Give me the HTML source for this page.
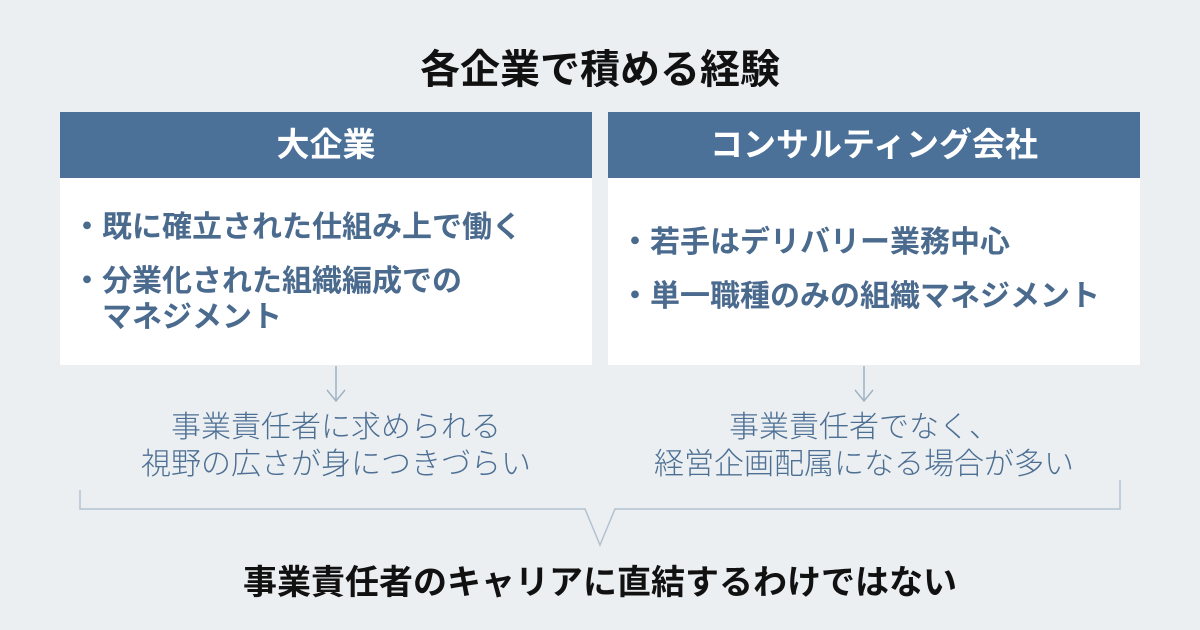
<!DOCTYPE html>
<html><head><meta charset="utf-8"><style>
*{margin:0;padding:0;box-sizing:border-box}
body{width:1200px;height:630px;background:#ebeff1;font-family:"Liberation Sans","Noto Sans CJK JP",sans-serif;position:relative;overflow:hidden}
.t{position:absolute;white-space:nowrap}
.box{position:absolute;top:112px;width:532px;height:253px;background:#fff}
.hd{height:66px;background:#4b7199;color:#fff;font-weight:bold;font-size:33px;text-align:center;line-height:66px}
.b{position:absolute;color:#4a6a8e;font-weight:bold;font-size:30px;line-height:36px;white-space:nowrap}
.g{position:absolute;color:#4d6f94;font-size:30px;line-height:37px;text-align:center;font-weight:300;white-space:nowrap}
</style></head><body>
<div class="t" style="left:0;width:1200px;top:37px;text-align:center;font-size:40px;font-weight:bold;color:#111">各企業で積める経験</div>
<div class="box" style="left:60px"><div class="hd">大企業</div>
<div class="b" style="left:12px;top:98px">・既に確立された仕組み上で働く</div>
<div class="b" style="left:12px;top:152px">・分業化された組織編成での<br>　マネジメント</div></div>
<div class="box" style="left:608px"><div class="hd">コンサルティング会社</div>
<div class="b" style="left:12px;top:113px">・若手はデリバリー業務中心</div>
<div class="b" style="left:12px;top:167px">・単一職種のみの組織マネジメント</div></div>
<svg style="position:absolute;left:0;top:0" width="1200" height="630" fill="none" stroke="#9fb2c4" stroke-width="1.5">
<path d="M336 366V401M327 390L336 401L345 390"/>
<path d="M864 366V401M855 390L864 401L873 390"/>
<path d="M80 490V509H585L600 545L615 509H1120V480" stroke="#b3c2cf"/>
</svg>
<div class="g" style="left:36px;width:600px;top:409px">事業責任者に求められる<br>視野の広さが身につきづらい</div>
<div class="g" style="left:564px;width:600px;top:409px">事業責任者でなく、<br>経営企画配属になる場合が多い</div>
<div class="t" style="left:0;width:1200px;top:555px;text-align:center;font-size:34px;font-weight:bold;color:#111">事業責任者のキャリアに直結するわけではない</div>
</body></html>
